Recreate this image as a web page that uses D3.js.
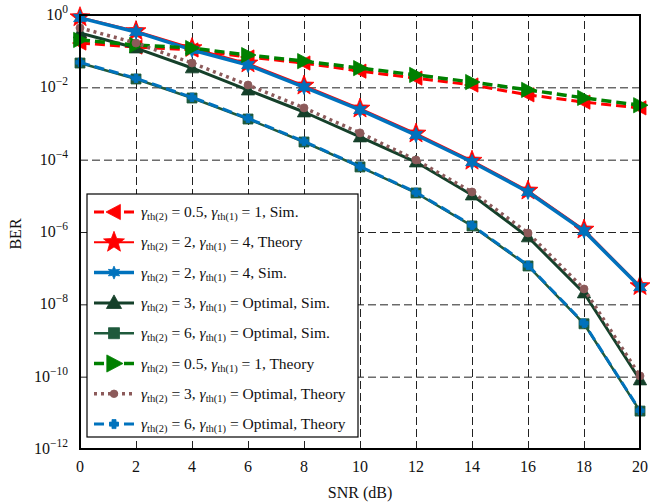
<!DOCTYPE html>
<html>
<head>
<meta charset="utf-8">
<script src="https://cdn.jsdelivr.net/npm/d3@7"></script>
<style>
  html, body { margin: 0; padding: 0; background: #fff; }
  svg { display: block; font-family: "Liberation Serif", "Times New Roman", serif; }
</style>
</head>
<body>
<svg id="chart" width="656" height="504"></svg>
<script>
// SNR axis (dB)
const snr = [0, 2, 4, 6, 8, 10, 12, 14, 16, 18, 20];
const xTicks = [0, 2, 4, 6, 8, 10, 12, 14, 16, 18, 20];
const yTickExps = [0, -2, -4, -6, -8, -10, -12];

// BER series
const berSim05 = [0.168, 0.130, 0.108, 0.069, 0.047, 0.028, 0.018, 0.0116, 0.0062, 0.0039, 0.0027];
const berTheory2_4 = [0.87, 0.36, 0.122, 0.046, 0.0112, 0.0026, 5.3e-4, 9.4e-5, 1.4e-5, 1.17e-6, 3.2e-8];
const berSim2_4 = [0.83, 0.34, 0.108, 0.0415, 0.0102, 0.00237, 4.8e-4, 8.6e-5, 1.28e-5, 1.07e-6, 3.0e-8];
const berSim3_opt = [0.318, 0.122, 0.0343, 0.0084, 0.00208, 4.24e-4, 8.6e-5, 1.05e-5, 7.3e-7, 2.06e-8, 8.1e-11];
const berSim6_opt = [0.047, 0.017, 0.00507, 0.00133, 3.08e-4, 6.3e-5, 1.2e-5, 1.47e-6, 1.15e-7, 2.9e-9, 1.12e-11];
const berTheory05 = [0.204, 0.148, 0.122, 0.078, 0.053, 0.034, 0.022, 0.014, 0.0085, 0.0051, 0.0032];
const berTheory3_opt = [0.44, 0.168, 0.047, 0.0116, 0.0027, 5.5e-4, 9.8e-5, 1.28e-5, 9.4e-7, 2.66e-8, 1.05e-10];
const berTheory6_opt = [0.049, 0.0178, 0.0053, 0.00139, 3.2e-4, 6.5e-5, 1.25e-5, 1.53e-6, 1.2e-7, 3.0e-9, 1.15e-11];

const legendLabels = [
  ["2", "0.5", "1", "Sim."],
  ["2", "2", "4", "Theory"],
  ["2", "2", "4", "Sim."],
  ["2", "3", "Optimal", "Sim."],
  ["2", "6", "Optimal", "Sim."],
  ["2", "0.5", "1", "Theory"],
  ["2", "3", "Optimal", "Theory"],
  ["2", "6", "Optimal", "Theory"]
];

const series = [
  { data: berSim05,       color: "#ff0000", width: 3,   dash: "10,5", marker: "triLeft",  msize: 7.5, lsize: 8 },
  { data: berTheory2_4,   color: "#ff0000", width: 2,   dash: null,   marker: "star5",    msize: 10.5, lsize: 11 },
  { data: berSim2_4,      color: "#0072bd", width: 3.5, dash: null,   marker: "star6",    msize: 7.5, lsize: 6.5 },
  { data: berSim3_opt,    color: "#15402a", width: 3,   dash: null,   marker: "triUp",    msize: 7, lsize: 8 },
  { data: berSim6_opt,    color: "#1f5a3c", width: 2.5, dash: null,   marker: "square",   msize: 5, lsize: 5.5 },
  { data: berTheory05,    color: "#008000", width: 3.5, dash: "10,5", marker: "triRight", msize: 8, lsize: 9 },
  { data: berTheory3_opt, color: "#8c5a5a", width: 3.5, dash: "3,4",  marker: "circle",   msize: 4, lsize: 3.8 },
  { data: berTheory6_opt, color: "#0072bd", width: 3,   dash: "10,5", marker: "plus",     msize: 4.2, lsize: 4.5 }
];

const svg = d3.select("#chart");
const margin = { left: 80, right: 16, top: 15, bottom: 55 };
const W = 656, H = 504;
const x = d3.scaleLinear().domain([0, 20]).range([margin.left, W - margin.right]);
const y = d3.scaleLog().domain([1e-12, 1]).range([H - margin.bottom, margin.top]);

const plot = svg.append("g");

// dashed grid
const yTickVals = yTickExps.map(e => Math.pow(10, e));
plot.append("g")
  .attr("transform", `translate(0,${H - margin.bottom})`)
  .call(d3.axisBottom(x).tickValues(xTicks).tickSize(-(H - margin.top - margin.bottom)).tickFormat(""))
  .call(g => g.select(".domain").remove())
  .call(g => g.selectAll("line").attr("stroke", "#222").attr("stroke-width", 1).attr("stroke-dasharray", "8,4"));
plot.append("g")
  .attr("transform", `translate(${margin.left},0)`)
  .call(d3.axisLeft(y).tickValues(yTickVals).tickSize(-(W - margin.left - margin.right)).tickFormat(""))
  .call(g => g.select(".domain").remove())
  .call(g => g.selectAll("line").attr("stroke", "#222").attr("stroke-width", 1).attr("stroke-dasharray", "8,4"));

// marker shapes
function markerPath(type, s) {
  const p = d3.path();
  if (type === "triLeft") {
    p.moveTo(-s, 0); p.lineTo(s * 0.8, -s * 0.95); p.lineTo(s * 0.8, s * 0.95); p.closePath();
  } else if (type === "triRight") {
    p.moveTo(s, 0); p.lineTo(-s * 0.8, -s * 0.95); p.lineTo(-s * 0.8, s * 0.95); p.closePath();
  } else if (type === "triUp") {
    p.moveTo(0, -s); p.lineTo(s * 0.95, s * 0.7); p.lineTo(-s * 0.95, s * 0.7); p.closePath();
  } else if (type === "square") {
    p.rect(-s, -s, 2 * s, 2 * s);
  } else if (type === "circle") {
    p.arc(0, 0, s, 0, 2 * Math.PI);
  } else if (type === "star5" || type === "star6") {
    const n = type === "star5" ? 5 : 6;
    const inner = type === "star5" ? s * 0.42 : s * 0.5;
    for (let i = 0; i < 2 * n; i++) {
      const r = i % 2 === 0 ? s : inner;
      const a = -Math.PI / 2 + i * Math.PI / n;
      const px = r * Math.cos(a), py = r * Math.sin(a);
      if (i === 0) p.moveTo(px, py); else p.lineTo(px, py);
    }
    p.closePath();
  } else if (type === "plus") {
    const t = s * 0.45;
    p.moveTo(-t, -s); p.lineTo(t, -s); p.lineTo(t, -t); p.lineTo(s, -t); p.lineTo(s, t);
    p.lineTo(t, t); p.lineTo(t, s); p.lineTo(-t, s); p.lineTo(-t, t); p.lineTo(-s, t);
    p.lineTo(-s, -t); p.lineTo(-t, -t); p.closePath();
  }
  return p.toString();
}

const line = d3.line().x(d => x(d[0])).y(d => y(d[1]));

series.forEach(s => {
  const pts = snr.map((v, i) => [v, s.data[i]]);
  const g = plot.append("g");
  g.append("path")
    .attr("d", line(pts))
    .attr("fill", "none")
    .attr("stroke", s.color)
    .attr("stroke-width", s.width)
    .attr("stroke-dasharray", s.dash)
    .attr("stroke-linejoin", "round");
  g.selectAll("path.m").data(pts).join("path")
    .attr("class", "m")
    .attr("transform", d => `translate(${x(d[0])},${y(d[1])})`)
    .attr("d", markerPath(s.marker, s.msize))
    .attr("fill", s.color)
    .attr("stroke", s.color)
    .attr("stroke-width", 0.8);
});

// frame
svg.append("rect")
  .attr("x", margin.left).attr("y", margin.top)
  .attr("width", W - margin.left - margin.right)
  .attr("height", H - margin.top - margin.bottom)
  .attr("fill", "none").attr("stroke", "#000").attr("stroke-width", 2);

// x tick labels
svg.append("g").selectAll("text").data(xTicks).join("text")
  .attr("x", d => x(d)).attr("y", H - margin.bottom + 23)
  .attr("text-anchor", "middle")
  .attr("font-size", 16)
  .attr("fill", "#111")
  .text(d => d);

// y tick labels as powers of ten
const yl = svg.append("g").selectAll("text").data(yTickExps).join("text")
  .attr("x", margin.left - 12).attr("y", d => y(Math.pow(10, d)) + 5)
  .attr("text-anchor", "end")
  .attr("font-size", 16)
  .attr("fill", "#111");
yl.append("tspan").text("10");
yl.append("tspan").attr("dy", -7).attr("font-size", 11.5).text(d => d === 0 ? "0" : "\u2212" + (-d));

// axis titles
svg.append("text")
  .attr("x", x(10)).attr("y", 498)
  .attr("text-anchor", "middle").attr("font-size", 16).attr("fill", "#111")
  .text("SNR (dB)");
svg.append("text")
  .attr("transform", `translate(21,${y(1e-6) + 2}) rotate(-90)`)
  .attr("text-anchor", "middle").attr("font-size", 16).attr("fill", "#111")
  .text("BER");

// legend
const lg = svg.append("g");
const lgX = 87, lgY = 194, lgW = 271, lgH = 243;
lg.append("rect")
  .attr("x", lgX).attr("y", lgY).attr("width", lgW).attr("height", lgH)
  .attr("fill", "#fff").attr("stroke", "#000").attr("stroke-width", 1.2);

series.forEach((s, i) => {
  const cy = lgY + 18 + i * 30.3;
  const row = lg.append("g");
  row.append("line")
    .attr("x1", lgX + 7).attr("x2", lgX + 47).attr("y1", cy).attr("y2", cy)
    .attr("stroke", s.color).attr("stroke-width", s.width)
    .attr("stroke-dasharray", s.dash);
  row.append("path")
    .attr("transform", `translate(${lgX + 27},${cy})`)
    .attr("d", markerPath(s.marker, s.lsize))
    .attr("fill", s.color).attr("stroke", s.color).attr("stroke-width", 0.8);

  const lab = legendLabels[i];
  const t = row.append("text")
    .attr("x", lgX + 54).attr("y", cy + 5)
    .attr("font-size", 15.5).attr("fill", "#111");
  t.append("tspan").attr("font-style", "italic").text("\u03b3");
  t.append("tspan").attr("font-size", 10.5).attr("dy", 3).text("th(" + lab[0] + ")");
  t.append("tspan").attr("dy", -3).text(" = " + lab[1] + ", ");
  t.append("tspan").attr("font-style", "italic").text("\u03b3");
  t.append("tspan").attr("font-size", 10.5).attr("dy", 3).text("th(1)");
  t.append("tspan").attr("dy", -3).text(" = " + lab[2] + ", " + lab[3]);
});
</script>
</body>
</html>
